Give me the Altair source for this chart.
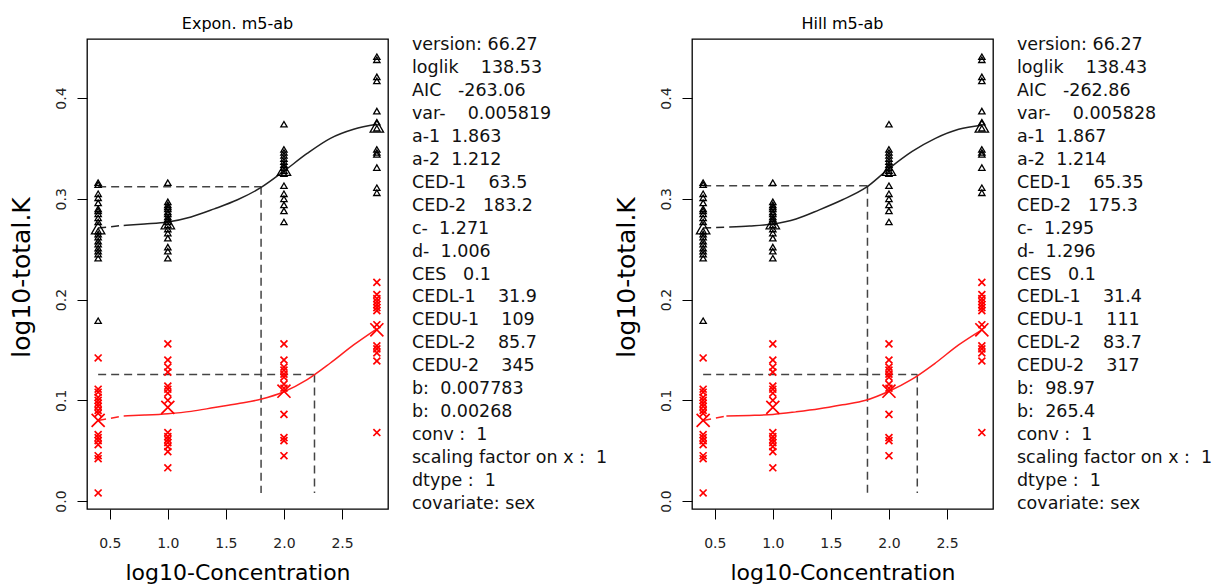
import altair as alt
import pandas as pd

FONT = "DejaVu Sans"
NB = "\u00a0"

# ---------------- data ----------------
doses = [0.4, 1.0, 2.0, 2.8]

black_04 = [0.316, 0.314, 0.305, 0.301, 0.296, 0.290, 0.288, 0.285, 0.281, 0.277,
            0.268, 0.265, 0.262, 0.258, 0.255, 0.251, 0.248, 0.245, 0.241, 0.179]
black_10 = [0.316, 0.297, 0.294, 0.292, 0.290, 0.287, 0.285, 0.282, 0.280, 0.277,
            0.274, 0.270, 0.266, 0.261, 0.252, 0.248, 0.241]
black_20 = [0.374, 0.349, 0.346, 0.343, 0.340, 0.337, 0.334, 0.331, 0.328, 0.325,
            0.313, 0.305, 0.300, 0.294, 0.288, 0.277]
black_28 = [0.441, 0.438, 0.421, 0.417, 0.387, 0.376, 0.370, 0.349, 0.346, 0.344,
            0.331, 0.311, 0.306]

red_04 = [0.142, 0.111, 0.108, 0.103, 0.100, 0.097, 0.094, 0.090, 0.087, 0.066,
          0.063, 0.060, 0.056, 0.045, 0.042, 0.008]
red_10 = [0.156, 0.140, 0.133, 0.128, 0.114, 0.111, 0.107, 0.100, 0.068, 0.064,
          0.061, 0.058, 0.054, 0.049, 0.033]
red_20 = [0.156, 0.140, 0.133, 0.130, 0.126, 0.123, 0.116, 0.112, 0.086, 0.063,
          0.060, 0.045]
red_28 = [0.217, 0.205, 0.201, 0.198, 0.195, 0.192, 0.189, 0.175, 0.154, 0.151,
          0.147, 0.139, 0.068]

black_means = [0.271, 0.276, 0.329, 0.372]
red_means = [0.080, 0.093, 0.109, 0.170]

# fitted curves
expon_black_x = [0.62, 0.8, 1.0, 1.2, 1.4, 1.6, 1.8, 2.0, 2.2, 2.4, 2.6, 2.8]
expon_black_y = [0.2736, 0.275, 0.277, 0.282, 0.290, 0.299, 0.311, 0.3275, 0.345, 0.360, 0.369, 0.374]
expon_red_x = [0.62, 0.8, 1.0, 1.2, 1.4, 1.6, 1.8, 2.0, 2.2, 2.4, 2.6, 2.8]
expon_red_y = [0.0844, 0.0853, 0.0867, 0.089, 0.0928, 0.0966, 0.101, 0.1085, 0.1205, 0.137, 0.155, 0.171]

hill_black_x = [0.63, 0.8, 1.0, 1.2, 1.4, 1.6, 1.8, 2.0, 2.2, 2.4, 2.6, 2.8]
hill_black_y = [0.272, 0.273, 0.275, 0.280, 0.289, 0.299, 0.311, 0.330, 0.347, 0.360, 0.369, 0.373]
hill_red_x = [0.6, 0.8, 1.0, 1.2, 1.4, 1.6, 1.8, 2.0, 2.2, 2.4, 2.6, 2.8]
hill_red_y = [0.0844, 0.085, 0.086, 0.0885, 0.0915, 0.0955, 0.100, 0.109, 0.121, 0.137, 0.155, 0.170]

# CED reference levels: (log10 CED, response at CES) per subgroup
expon_ced = [(1.803, 0.312), (2.263, 0.1255)]
hill_ced = [(1.815, 0.313), (2.244, 0.1255)]
ced_floor = 0.008

expon_lines = [
    "version: 66.27", "loglik" + NB * 4 + "138.53", "AIC" + NB * 3 + "-263.06",
    "var-" + NB * 4 + "0.005819", "a-1" + NB * 2 + "1.863", "a-2" + NB * 2 + "1.212",
    "CED-1" + NB * 4 + "63.5", "CED-2" + NB * 3 + "183.2", "c-" + NB * 2 + "1.271",
    "d-" + NB * 2 + "1.006", "CES" + NB * 3 + "0.1", "CEDL-1" + NB * 4 + "31.9",
    "CEDU-1" + NB * 4 + "109", "CEDL-2" + NB * 4 + "85.7", "CEDU-2" + NB * 4 + "345",
    "b:" + NB * 2 + "0.007783", "b:" + NB * 2 + "0.00268", "conv :" + NB * 2 + "1",
    "scaling factor on x :" + NB * 2 + "1", "dtype :" + NB * 2 + "1", "covariate: sex",
]
hill_lines = [
    "version: 66.27", "loglik" + NB * 4 + "138.43", "AIC" + NB * 3 + "-262.86",
    "var-" + NB * 4 + "0.005828", "a-1" + NB * 2 + "1.867", "a-2" + NB * 2 + "1.214",
    "CED-1" + NB * 4 + "65.35", "CED-2" + NB * 3 + "175.3", "c-" + NB * 2 + "1.295",
    "d-" + NB * 2 + "1.296", "CES" + NB * 3 + "0.1", "CEDL-1" + NB * 4 + "31.4",
    "CEDU-1" + NB * 4 + "111", "CEDL-2" + NB * 4 + "83.7", "CEDU-2" + NB * 4 + "317",
    "b:" + NB * 2 + "98.97", "b:" + NB * 2 + "265.4", "conv :" + NB * 2 + "1",
    "scaling factor on x :" + NB * 2 + "1", "dtype :" + NB * 2 + "1", "covariate: sex",
]

# ---------------- tables ----------------
def points(groups):
    rows = []
    for d, vals in zip(doses, groups):
        for v in vals:
            rows.append({"x": d, "y": v})
    return pd.DataFrame(rows)

black_df = points([black_04, black_10, black_20, black_28])
red_df = points([red_04, red_10, red_20, red_28])
bmean_df = pd.DataFrame({"x": doses, "y": black_means})
rmean_df = pd.DataFrame({"x": doses, "y": red_means})

W, H = 301, 470
XDOM = [0.304, 2.896]
YDOM = [-0.0079, 0.4586]
XSHAPE = "M-1,-1L1,1M1,-1L-1,1"

xaxis = alt.Axis(values=[0.5, 1.0, 1.5, 2.0, 2.5], format=".1f", title="log10-Concentration",
                 titleY=70, labelFontSize=14)
yaxis = alt.Axis(values=[0.0, 0.1, 0.2, 0.3, 0.4], format=".1f", title="log10-total.K",
                 titleX=-58, titleY=H / 2 + 3, titleFontSize=25, labelFontSize=14)


def panel(title, bx, by, rx, ry, ced, lines):
    bcurve = pd.DataFrame({"x": bx, "y": by})
    rcurve = pd.DataFrame({"x": rx, "y": ry})
    segs = pd.DataFrame([
        # dashed connectors from control mean to curve start
        {"x": doses[0], "y": black_means[0], "x2": bx[0], "y2": by[0], "c": "#222222"},
        {"x": doses[0], "y": red_means[0], "x2": rx[0], "y2": ry[0], "c": "#ff2020"},
        # CES / CED reference lines
        {"x": doses[0], "y": ced[0][1], "x2": ced[0][0], "y2": ced[0][1], "c": "#444444"},
        {"x": ced[0][0], "y": ced[0][1], "x2": ced[0][0], "y2": ced_floor, "c": "#444444"},
        {"x": doses[0], "y": ced[1][1], "x2": ced[1][0], "y2": ced[1][1], "c": "#444444"},
        {"x": ced[1][0], "y": ced[1][1], "x2": ced[1][0], "y2": ced_floor, "c": "#444444"},
    ])
    text_df = pd.DataFrame({"i": list(range(len(lines))), "t": lines})

    X = alt.X("x:Q", axis=xaxis, scale=alt.Scale(domain=XDOM, nice=False, zero=False))
    Y = alt.Y("y:Q", axis=yaxis, scale=alt.Scale(domain=YDOM, nice=False, zero=False))

    ref = alt.Chart(segs).mark_rule(strokeDash=[8, 5], strokeWidth=1.5).encode(
        x=X, y=Y, x2="x2:Q", y2="y2:Q", color=alt.Color("c:N", scale=None))
    bline = alt.Chart(bcurve).mark_line(color="#222222", strokeWidth=1.5,
                                        interpolate="monotone").encode(x=X, y=Y)
    rline = alt.Chart(rcurve).mark_line(color="#ff2020", strokeWidth=1.5,
                                        interpolate="monotone").encode(x=X, y=Y)
    bpts = alt.Chart(black_df).mark_point(shape="triangle-up", filled=False, size=40,
                                          strokeWidth=1.3, color="black", opacity=1).encode(x=X, y=Y)
    rpts = alt.Chart(red_df).mark_point(shape=XSHAPE, filled=False, size=48,
                                        strokeWidth=1.7, color="#ff0000", opacity=1).encode(x=X, y=Y)
    bm = alt.Chart(bmean_df).mark_point(shape="triangle-up", filled=False, size=180,
                                        strokeWidth=1.3, color="black", opacity=1).encode(x=X, y=Y)
    rm = alt.Chart(rmean_df).mark_point(shape=XSHAPE, filled=False, size=170,
                                        strokeWidth=1.7, color="#ff0000", opacity=1).encode(x=X, y=Y)
    plot = alt.layer(ref, bline, rline, bpts, rpts, bm, rm)

    txt = alt.Chart(text_df).mark_text(align="left", baseline="middle", font=FONT, fontSize=17.5,
                                       color="#111111").encode(
        x=alt.value(W + 24),
        y=alt.Y("i:Q", axis=None, scale=alt.Scale(domain=[0, 20], range=[6, 465])),
        text="t:N")
    return alt.layer(plot, txt).resolve_scale(y="independent").resolve_axis(
        y="independent").properties(width=W, height=H, title=title)


p1 = panel("Expon. m5-ab", expon_black_x, expon_black_y, expon_red_x, expon_red_y, expon_ced, expon_lines)
p2 = panel("Hill m5-ab", hill_black_x, hill_black_y, hill_red_x, hill_red_y, hill_ced, hill_lines)

chart = alt.hconcat(p1, p2, spacing=5).properties(
    padding={"left": 8, "top": 15, "right": 0, "bottom": 0},
    background="white",
).configure_view(
    stroke="black", strokeWidth=1.3
).configure_axis(
    tickSize=10, tickColor="black", tickWidth=1, domain=False, grid=False,
    labelFont=FONT, labelFontSize=14, labelColor="#222222", labelFlush=False, labelOverlap=False,
    titleFont=FONT, titleFontSize=22, titleFontWeight="normal", titleColor="black",
).configure_axisX(
    labelBaseline="alphabetic", labelPadding=28, titleBaseline="alphabetic",
).configure_axisY(
    labelAngle=270, labelAlign="center", labelBaseline="alphabetic", labelPadding=12,
    titleAngle=270, titleAlign="center", titleBaseline="alphabetic",
).configure_title(
    font=FONT, fontSize=16, fontWeight="normal", color="black", offset=4,
    baseline="alphabetic", anchor="middle",
)

chart.save("out.html", embed_options={"renderer": "svg", "actions": False})
